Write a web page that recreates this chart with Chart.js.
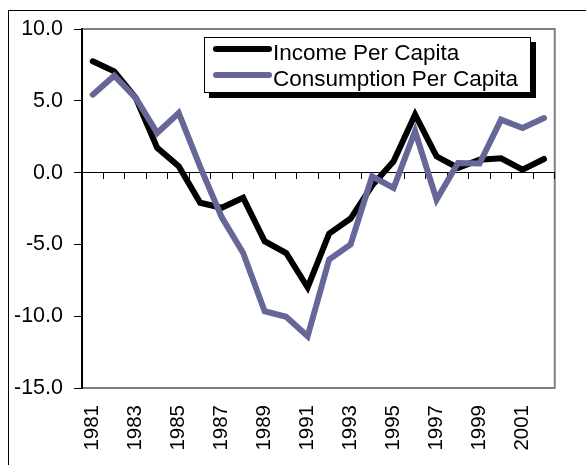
<!DOCTYPE html>
<html><head><meta charset="utf-8">
<script src="https://cdn.jsdelivr.net/npm/chart.js@4.4.0/dist/chart.umd.min.js"></script>
<style>
html,body{margin:0;padding:0;background:#fff;}
#wrap{position:relative;width:586px;height:465px;overflow:hidden;background:#fff;}
#frame{position:absolute;left:8px;top:10px;width:640px;height:540px;border:1px solid #000;box-sizing:border-box;}
canvas{position:absolute;left:0;top:0;}
</style></head><body>
<div id="wrap"><div id="frame"></div><canvas id="c" width="586" height="465"></canvas></div>
<script>
const years = ['1981','1982','1983','1984','1985','1986','1987','1988','1989','1990','1991','1992','1993','1994','1995','1996','1997','1998','1999','2000','2001','2002'];
const income = [7.75, 7.05, 5.2, 1.72, 0.44, -2.1, -2.45, -1.75, -4.78, -5.6, -8.0, -4.25, -3.2, -0.9, 0.79, 4.04, 1.13, 0.33, 0.9, 1.0, 0.21, 0.95];
const consumption = [5.43, 6.75, 5.2, 2.76, 4.15, 0.4, -3.1, -5.6, -9.65, -10.04, -11.4, -6.05, -5.0, -0.26, -1.07, 2.88, -1.88, 0.67, 0.63, 3.69, 3.11, 3.8];
const seriesNames = ['Income Per Capita', 'Consumption Per Capita'];
const yMin = -15, yMax = 10, yStep = 5;

const FONT = 'Liberation Sans, Arial, sans-serif';

const plotFrame = {
  id: 'plotFrame',
  beforeDraw(chart) {
    const {ctx, chartArea: a} = chart;
    ctx.save();
    ctx.strokeStyle = '#808080';
    ctx.lineWidth = 2;
    ctx.strokeRect(a.left, a.top, a.right - a.left, a.bottom - a.top);
    ctx.restore();
  }
};

const boxLegend = {
  id: 'boxLegend',
  afterDatasetsDraw(chart) {
    const {ctx} = chart;
    const bx = 204, by = 37, bw = 326, bh = 55;
    ctx.save();
    ctx.fillStyle = '#000';
    ctx.fillRect(bx + 5, by + 5, bw + 1, bh + 1);
    ctx.fillStyle = '#fff';
    ctx.fillRect(bx, by, bw, bh);
    ctx.strokeStyle = '#000';
    ctx.lineWidth = 1;
    ctx.strokeRect(bx + 0.5, by + 0.5, bw, bh);
    chart.data.datasets.forEach((ds, i) => {
      const ly = 49 + i * 26;
      ctx.strokeStyle = ds.borderColor;
      ctx.lineWidth = 6;
      ctx.lineCap = 'round';
      ctx.beginPath();
      ctx.moveTo(216, ly);
      ctx.lineTo(269, ly);
      ctx.stroke();
      ctx.fillStyle = '#000';
      ctx.font = '22.5px ' + FONT;
      ctx.textBaseline = 'alphabetic';
      ctx.textAlign = 'left';
      ctx.fillText(ds.label, 273, ly + 11);
    });
    ctx.restore();
  }
};

new Chart(document.getElementById('c'), {
  type: 'line',
  data: {
    labels: years,
    datasets: [
      {label: seriesNames[0], data: income, borderColor: '#000000', backgroundColor: '#000000', borderWidth: 6, pointRadius: 0, tension: 0, borderCapStyle: 'round', order: 1},
      {label: seriesNames[1], data: consumption, borderColor: '#666699', backgroundColor: '#666699', borderWidth: 6, pointRadius: 0, tension: 0, borderCapStyle: 'round', order: 0}
    ]
  },
  options: {
    responsive: false,
    devicePixelRatio: 1,
    animation: false,
    layout: {padding: {top: 29, right: 17, left: 0, bottom: 0}},
    plugins: {legend: {display: false}, tooltip: {enabled: false}},
    scales: {
      x: {
        type: 'category', position: 'bottom', offset: true,
        grid: {display: false, drawTicks: false},
        border: {display: false},
        ticks: {
          autoSkip: false, maxRotation: 90, minRotation: 90, padding: 17, color: '#000',
          font: {family: FONT, size: 20.5},
          callback: (v, i) => (i % 2 === 0 ? years[i] : '')
        },
        afterFit: s => { s.height = 77; }
      },
      x0: {
        type: 'category', position: {y: 0}, offset: true,
        grid: {drawOnChartArea: false, drawTicks: true, tickLength: 6, color: '#000', lineWidth: 1, offset: true},
        border: {display: true, color: '#000', width: 1},
        ticks: {display: false}
      },
      y: {
        position: 'left', min: yMin, max: yMax,
        ticks: {stepSize: yStep, padding: 11, color: '#000', font: {family: FONT, size: 21.5}, callback: v => Number(v).toFixed(1)},
        grid: {drawOnChartArea: false, tickLength: 8, color: '#000', lineWidth: 1},
        border: {color: '#000', width: 2},
        afterFit: s => { s.width = 82; }
      }
    }
  },
  plugins: [plotFrame, boxLegend]
});
</script>
</body></html>
